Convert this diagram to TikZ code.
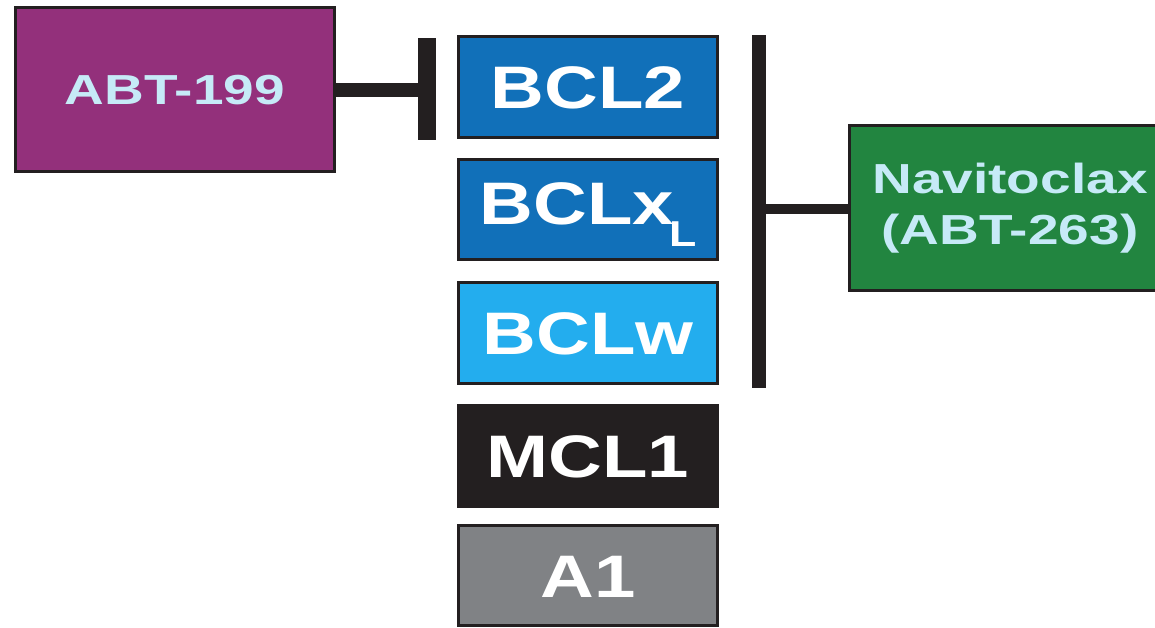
\documentclass[tikz,border=0pt]{standalone}
\usepackage{fontspec}
\setmainfont{Liberation Sans}
\definecolor{lc}{HTML}{231F20}
\definecolor{purp}{HTML}{93307B}
\definecolor{bclblue}{HTML}{1170B9}
\definecolor{bclw}{HTML}{23ADEE}
\definecolor{agray}{HTML}{808285}
\definecolor{navgreen}{HTML}{228540}
\definecolor{paletxt}{HTML}{C6EAF7}
\newcommand\hsA[1]{\scalebox{1.24}[1]{#1}}
\newcommand\hsB[1]{\scalebox{1.31}[1]{#1}}
\begin{document}
\begin{tikzpicture}[x=1pt,y=-1pt,
  box/.style={draw=lc, line width=3pt, inner sep=0pt, minimum width=259pt,
    minimum height=101pt, text=white, font=\fontsize{60}{60}\selectfont\bfseries,
    text height=43pt, text depth=0pt},
  drug/.style={draw=lc, line width=3pt, inner sep=0pt, text=paletxt,
    font=\fontsize{42}{51}\selectfont\bfseries, align=center},
  bar/.style={draw=lc, line width=#1}]
\useasboundingbox (0,0) rectangle (1155,627);
\clip (0,0) rectangle (1155,627);
% drugs
\node[drug, fill=purp, minimum width=319pt, minimum height=164pt,
  text height=30pt, text depth=0pt] (abt) at (175,89.5) {\hsB{ABT-199}};
\node[drug, fill=navgreen, minimum width=321pt, minimum height=165pt] (nav) at (1010,208)
  {\hsB{Navitoclax}\\\hsB{(ABT-263)}};
% proteins
\node[box, fill=bclblue] (bcl2) at (588,87) {\hsA{BCL2}};
\node[box, fill=bclblue, minimum height=100pt, text depth=14pt] (bclx) at (588,209.5)
  {\hsA{BCLx\kern-4pt\raisebox{-22pt}{\fontsize{36}{36}\selectfont L}}};
\node[box, fill=bclw] (bclw) at (588,333) {\hsA{BCLw}};
\node[box, fill=lc] (mcl1) at (588,456) {\hsA{MCL1}};
\node[box, fill=agray, minimum height=100pt] (a1) at (588,575.5) {\hsA{A1}};
% inhibition connectors
\coordinate (lbartop) at (427,38);
\coordinate (lbarbot) at (427,140);
\coordinate (lbarmid) at (427,90);
\draw[bar=18pt] (lbartop) -- (lbarbot);
\draw[bar=14pt] (abt.east |- lbarmid) -- (lbarmid);
\coordinate (rbartop) at (759,35);
\coordinate (rbarbot) at (759,388);
\coordinate (rbarmid) at (759,209);
\draw[bar=14pt] (rbartop) -- (rbarbot);
\draw[bar=10pt] (nav.west |- rbarmid) -- (rbarmid);
\end{tikzpicture}
\end{document}
